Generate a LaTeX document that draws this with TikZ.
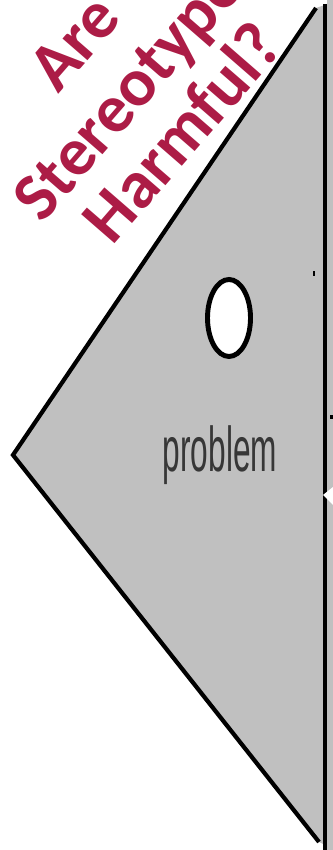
\documentclass[tikz,border=0pt]{standalone}
\usepackage{fontspec}
\usetikzlibrary{positioning,shapes.geometric}
\newfontfamily\titlefont{Carlito}
\newfontfamily\labelfont{Liberation Sans}
\definecolor{panelgrey}{RGB}{192,192,192}
\definecolor{crimson}{RGB}{172,28,70}
\definecolor{ink}{RGB}{55,55,55}

\begin{document}
\begin{tikzpicture}[
    title/.style={crimson,font=\titlefont\bfseries\fontsize{19.4}{20}\selectfont,
      rotate=49,anchor=base,inner sep=0pt},
    edge/.style={line width=1.2pt,line join=miter},
  ]
  \useasboundingbox (0,0) rectangle (3.33,8.5);
  \clip (0,0) rectangle (3.33,8.5);
  % strip on the right border
  \fill[panelgrey] (3.27,0) rectangle (3.33,8.5);
  % the triangle
  \coordinate (top) at (3.16,8.42);
  \coordinate (tip) at (0.13,3.95);
  \coordinate (bot) at (3.19,0.08);
  \fill[panelgrey] (3.25,8.45) -- (top) -- (tip) -- (bot) -- (3.25,0.05) -- cycle;
  \draw[edge] (top) -- (tip) -- (bot);
  \draw[line width=1.1pt] (3.25,8.46) -- (3.25,0);
  % small marks on the right
  \fill[white] (3.23,3.55) -- (3.33,3.63) -- (3.33,3.45) -- cycle;
  \fill (3.125,5.74) rectangle (3.145,5.79);
  \fill (3.30,4.31) rectangle (3.33,4.35);
  % hole and label
  \node[draw,fill=white,ellipse,line width=1.4pt,minimum width=0.43cm,
    minimum height=0.77cm,inner sep=0pt] (hole) at (2.29,5.32) {};
  \node[ink,font=\labelfont\fontsize{18}{20}\selectfont,anchor=base,inner sep=0pt]
    (problem) at (2.20,3.78) {\scalebox{0.5}[1]{problem}};
  % title
  \node[title] (are) at (0.91,7.93) {Are};
  \node[title] (stereo) at (1.53,7.53) {Stereotypes};
  \node[title] (harm) at (1.99,7.03) {Harmful?};
\end{tikzpicture}
\end{document}
